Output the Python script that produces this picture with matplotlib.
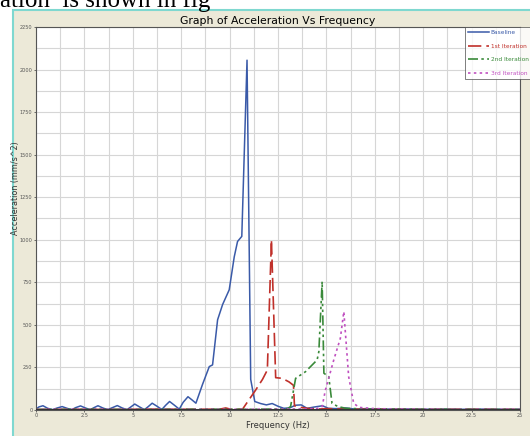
import matplotlib.pyplot as plt
from matplotlib.patches import Rectangle
from matplotlib.ticker import MultipleLocator

# values
base_f = [0, 0.15, 0.36, 0.6, 0.85, 1.1, 1.35, 1.6, 1.85, 2.05, 2.3, 2.55, 2.8, 3.0, 3.2,
          3.45, 3.7, 3.95, 4.2, 4.45, 4.7, 4.9, 5.1, 5.35, 5.6, 5.8, 6.0, 6.25, 6.5, 6.7,
          6.9, 7.15, 7.4, 7.6, 7.85, 8.05, 8.26, 8.6, 8.95, 9.12, 9.38, 9.64, 9.98, 10.24,
          10.41, 10.63, 10.9, 11.09, 11.3, 11.6, 11.9, 12.2, 12.5, 12.8, 13.1, 13.4, 13.7,
          14.0, 14.4, 14.8, 15.1, 15.5, 16, 16.5, 17, 18, 19, 20, 21, 22, 23, 24, 25]
base_a = [5, 18, 25, 10, 2, 12, 20, 10, 2, 14, 24, 12, 2, 14, 25,
          12, 2, 14, 26, 12, 2, 18, 35, 18, 2, 20, 40, 22, 3, 28,
          50, 28, 5, 45, 78, 60, 40, 150, 255, 265, 530, 620, 706, 900,
          990, 1020, 2055, 180, 50, 38, 30, 38, 22, 10, 12, 28, 30,
          10, 18, 25, 10, 8, 12, 5, 8, 5, 6, 4, 5, 4, 5, 4, 4]

it1_f = [0, 2, 4, 6, 8, 9.5, 9.8, 10.1, 10.67, 11.0, 11.35, 11.7, 11.95, 12.16, 12.38,
         12.72, 13.07, 13.3, 13.35, 13.7, 14, 14.5, 15, 16, 18, 20, 22, 25]
it1_a = [3, 4, 3, 5, 4, 5, 12, 3, 5, 60, 118, 180, 235, 1000, 190,
         186, 165, 145, 25, 15, 10, 5, 8, 5, 4, 3, 4, 3]

it2_f = [0, 3, 6, 9, 11, 12.5, 13.0, 13.15, 13.41, 13.92, 14.52, 14.61, 14.78, 14.87,
         15.12, 15.29, 15.6, 16, 17, 19, 21, 23, 25]
it2_a = [3, 4, 3, 5, 4, 6, 8, 20, 186, 225, 294, 343, 755, 216,
         196, 39, 20, 10, 6, 4, 5, 3, 4]

it3_f = [0, 3, 6, 9, 12, 13.5, 14.5, 14.78, 14.95, 15.38, 15.72, 15.9, 16.15, 16.41,
         16.7, 17.5, 19, 21, 23, 25]
it3_a = [3, 4, 3, 4, 5, 6, 8, 20, 118, 294, 421, 578, 196, 39,
         15, 8, 5, 4, 3, 4]

labels = ['Baseline', '1st Iteration', '2nd Iteration', '3rd Iteration']
colors = ['#3a5aa8', '#c0302a', '#3a8a3a', '#c050c0']

beige = '#ece9d8'
fig = plt.figure(figsize=(5.3, 4.36), dpi=100)
fig.patch.set_facecolor('white')

# beige panel with teal edge, like the screenshot frame
fig.add_artist(Rectangle((13 / 530, -0.05), 1.1, 1 - 10 / 436 + 0.05, transform=fig.transFigure,
                         facecolor=beige, edgecolor='#7fd8d0', linewidth=1.5, zorder=0))
# caption line above the screenshot, cut by the top edge
fig.text(0.0, 1 - 7 / 436, 'ation  is shown in fig', family='Liberation Serif', fontsize=18,
         va='baseline', ha='left', color='black')

ax = fig.add_axes([36 / 530, 26 / 436, 484 / 530, 383 / 436])
ax.set_facecolor('white')

ax.plot(base_f, base_a, color=colors[0], lw=1.1, ls='-', label=labels[0])
ax.plot(it1_f, it1_a, color=colors[1], lw=1.2, ls=(0, (8, 3)), label=labels[1])
ax.plot(it2_f, it2_a, color=colors[2], lw=1.2, ls=(0, (6, 2, 1.5, 2, 1.5, 2)), label=labels[2])
ax.plot(it3_f, it3_a, color=colors[3], lw=1.2, ls=(0, (1.5, 2)), label=labels[3])

ax.set_xlim(0, 25)
ax.set_ylim(0, 2250)
ax.xaxis.set_major_locator(MultipleLocator(2.5))
ax.xaxis.set_minor_locator(MultipleLocator(1.25))
ax.yaxis.set_major_locator(MultipleLocator(250))
ax.yaxis.set_minor_locator(MultipleLocator(125))
ax.grid(which='both', color='#d6d6d6', lw=0.8)
ax.set_axisbelow(True)
ax.axhline(0, color='#333333', lw=1.5, zorder=5)
for s in ax.spines.values():
    s.set_color('#555555')
    s.set_linewidth(0.8)

ax.tick_params(which='major', labelsize=3.6, colors='#555555', length=1.5, width=0.6, pad=1)
ax.tick_params(which='minor', length=0)
ax.set_xticks(ax.get_xticks())
ax.set_xticklabels([('%g' % t) for t in ax.get_xticks()])
ax.set_xlim(0, 25)

ax.set_xlabel('Frequency (Hz)', fontsize=6, color='#333333', labelpad=1.5)
ax.set_ylabel('Acceleration (mm/s^2)', fontsize=5.8, color='#333333')
ax.yaxis.set_label_coords(-0.034, 0.58)
ax.set_title('Graph of Acceleration Vs Frequency', fontsize=7.8, pad=2)

leg = ax.legend(loc='upper left', bbox_to_anchor=(465 / 530, 1 - 27 / 436),
                bbox_transform=fig.transFigure, fontsize=4.2, frameon=True, fancybox=False,
                handlelength=3.6, handletextpad=0.3, borderpad=0.5, labelspacing=1.45,
                borderaxespad=0)
leg.get_frame().set_edgecolor('#444444')
leg.get_frame().set_linewidth(0.6)
for t, c in zip(leg.get_texts(), colors):
    t.set_color(c)

fig.savefig('out.png', dpi=100, facecolor=fig.get_facecolor())
